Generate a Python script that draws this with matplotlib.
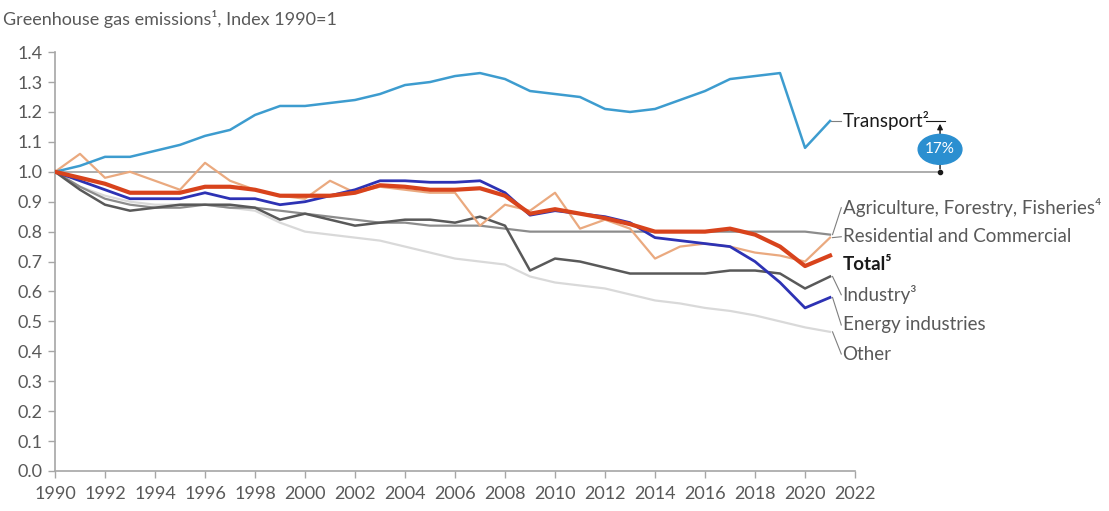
import numpy as np
import matplotlib
matplotlib.use("Agg")
import matplotlib.pyplot as plt
from matplotlib.patches import Ellipse

plt.rcParams["font.family"] = ["Lato", "DejaVu Sans"]

years = np.arange(1990, 2022)

transport = [1.00, 1.02, 1.05, 1.05, 1.07, 1.09, 1.12, 1.14, 1.19, 1.22, 1.22, 1.23,
             1.24, 1.26, 1.29, 1.30, 1.32, 1.33, 1.31, 1.27, 1.26, 1.25, 1.21, 1.20,
             1.21, 1.24, 1.27, 1.31, 1.32, 1.33, 1.08, 1.17]
agriculture = [1.00, 0.95, 0.91, 0.89, 0.88, 0.88, 0.89, 0.88, 0.88, 0.87, 0.86, 0.85,
               0.84, 0.83, 0.83, 0.82, 0.82, 0.82, 0.81, 0.80, 0.80, 0.80, 0.80, 0.80,
               0.80, 0.80, 0.80, 0.80, 0.80, 0.80, 0.80, 0.79]
residential = [1.00, 1.06, 0.98, 1.00, 0.97, 0.94, 1.03, 0.97, 0.94, 0.92, 0.91, 0.97,
               0.93, 0.95, 0.94, 0.93, 0.93, 0.82, 0.89, 0.87, 0.93, 0.81, 0.84, 0.81,
               0.71, 0.75, 0.76, 0.75, 0.73, 0.72, 0.70, 0.78]
total = [1.00, 0.98, 0.96, 0.93, 0.93, 0.93, 0.95, 0.95, 0.94, 0.92, 0.92, 0.92,
         0.93, 0.955, 0.95, 0.94, 0.94, 0.945, 0.92, 0.86, 0.875, 0.86, 0.845, 0.825,
         0.80, 0.80, 0.80, 0.81, 0.79, 0.75, 0.685, 0.72]
industry = [1.00, 0.94, 0.89, 0.87, 0.88, 0.89, 0.89, 0.89, 0.88, 0.84, 0.86, 0.84,
            0.82, 0.83, 0.84, 0.84, 0.83, 0.85, 0.82, 0.67, 0.71, 0.70, 0.68, 0.66,
            0.66, 0.66, 0.66, 0.67, 0.67, 0.66, 0.61, 0.65]
energy = [1.00, 0.97, 0.94, 0.91, 0.91, 0.91, 0.93, 0.91, 0.91, 0.89, 0.90, 0.92,
          0.94, 0.97, 0.97, 0.965, 0.965, 0.97, 0.93, 0.855, 0.87, 0.86, 0.85, 0.83,
          0.78, 0.77, 0.76, 0.75, 0.70, 0.63, 0.545, 0.58]
other = [1.00, 0.95, 0.92, 0.90, 0.89, 0.89, 0.89, 0.88, 0.87, 0.83, 0.80, 0.79,
         0.78, 0.77, 0.75, 0.73, 0.71, 0.70, 0.69, 0.65, 0.63, 0.62, 0.61, 0.59,
         0.57, 0.56, 0.545, 0.535, 0.52, 0.50, 0.48, 0.465]

# label text, label y (data units), text colour, weight
labels = [
    ("Agriculture, Forestry, Fisheries\u2074", 0.88, "#595959", "normal"),
    ("Residential and Commercial", 0.783, "#595959", "normal"),
    ("Total\u2075", 0.689, "#1a1a1a", "bold"),
    ("Industry\u00b3", 0.589, "#595959", "normal"),
    ("Energy industries", 0.488, "#595959", "normal"),
    ("Other", 0.391, "#595959", "normal"),
]
transport_change = "17%"

fig = plt.figure(figsize=(11.09, 5.11), dpi=100)
ax = fig.add_axes([0.0496, 0.0783, 0.7214, 0.8197])

grey = "#7f7f7f"
ax.plot([1990, 2025.4], [1.0, 1.0], color="#a6a6a6", lw=1.3, clip_on=False, zorder=1)

ax.plot(years, other, color="#d9d9d9", lw=1.6, zorder=2)
ax.plot(years, agriculture, color="#8c8c8c", lw=1.6, zorder=3)
ax.plot(years, industry, color="#595959", lw=1.8, zorder=3)
ax.plot(years, residential, color="#eaa97f", lw=1.6, zorder=4)
ax.plot(years, transport, color="#3d9ccf", lw=1.8, zorder=4)
ax.plot(years, energy, color="#2d32b4", lw=2.0, zorder=5)
ax.plot(years, total, color="#d8431c", lw=3.0, zorder=6)

ax.set_xlim(1990, 2022)
ax.set_ylim(0, 1.4)
ax.set_xticks(np.arange(1990, 2023, 2))
ax.set_yticks(np.arange(0, 1.41, 0.1))
ax.set_yticklabels([f"{v:.1f}" for v in np.arange(0, 1.41, 0.1)])
for s in ["top", "right"]:
    ax.spines[s].set_visible(False)
for s in ["left", "bottom"]:
    ax.spines[s].set_color("#a6a6a6")
    ax.spines[s].set_linewidth(1.2)
ax.tick_params(axis="both", colors="#a6a6a6", labelcolor="#595959",
               labelsize=13, length=5, width=1)
ax.tick_params(axis="x", pad=6)
ax.tick_params(axis="y", pad=4)

fig.text(0.003, 0.962, "Greenhouse gas emissions\u00b9, Index 1990=1",
         fontsize=13, color="#595959", ha="left", va="center")

# leader lines and labels
ends = [agriculture[-1], residential[-1], total[-1], industry[-1], energy[-1], other[-1]]
xt = 2021.5
for (txt, ly, col, w), ye in zip(labels, ends):
    if w != "bold":
        ax.plot([2021.1, xt - 0.05], [ye, ly], color=grey, lw=0.8, clip_on=False)
    ax.text(xt, ly, txt, color=col, fontsize=13.5, fontweight=w,
            ha="left", va="center", clip_on=False)

ax.plot([2021.05, xt - 0.05], [transport[-1], transport[-1]], color=grey, lw=0.8,
        clip_on=False)
ax.text(xt, transport[-1], "Transport\u00b2", color="#1a1a1a", fontsize=13.5,
        ha="left", va="center", clip_on=False)
ax.plot([2024.85, 2025.6], [transport[-1], transport[-1]], color="#1a1a1a", lw=0.8,
        clip_on=False)
ax.annotate("", xy=(2025.4, transport[-1]), xytext=(2025.4, 1.0),
            arrowprops=dict(arrowstyle="-|>", color="#1a1a1a", lw=1.0,
                            mutation_scale=8), annotation_clip=False)
ax.plot([2025.4], [1.0], marker="o", ms=3, color="#1a1a1a", clip_on=False)
ax.add_patch(Ellipse((2025.4, 1.075), 1.75, 0.1, color="#2b8fd0", clip_on=False, zorder=7))
ax.text(2025.4, 1.075, transport_change, color="white", fontsize=11,
        ha="center", va="center", zorder=8, clip_on=False)

fig.savefig("out.png", dpi=100)
